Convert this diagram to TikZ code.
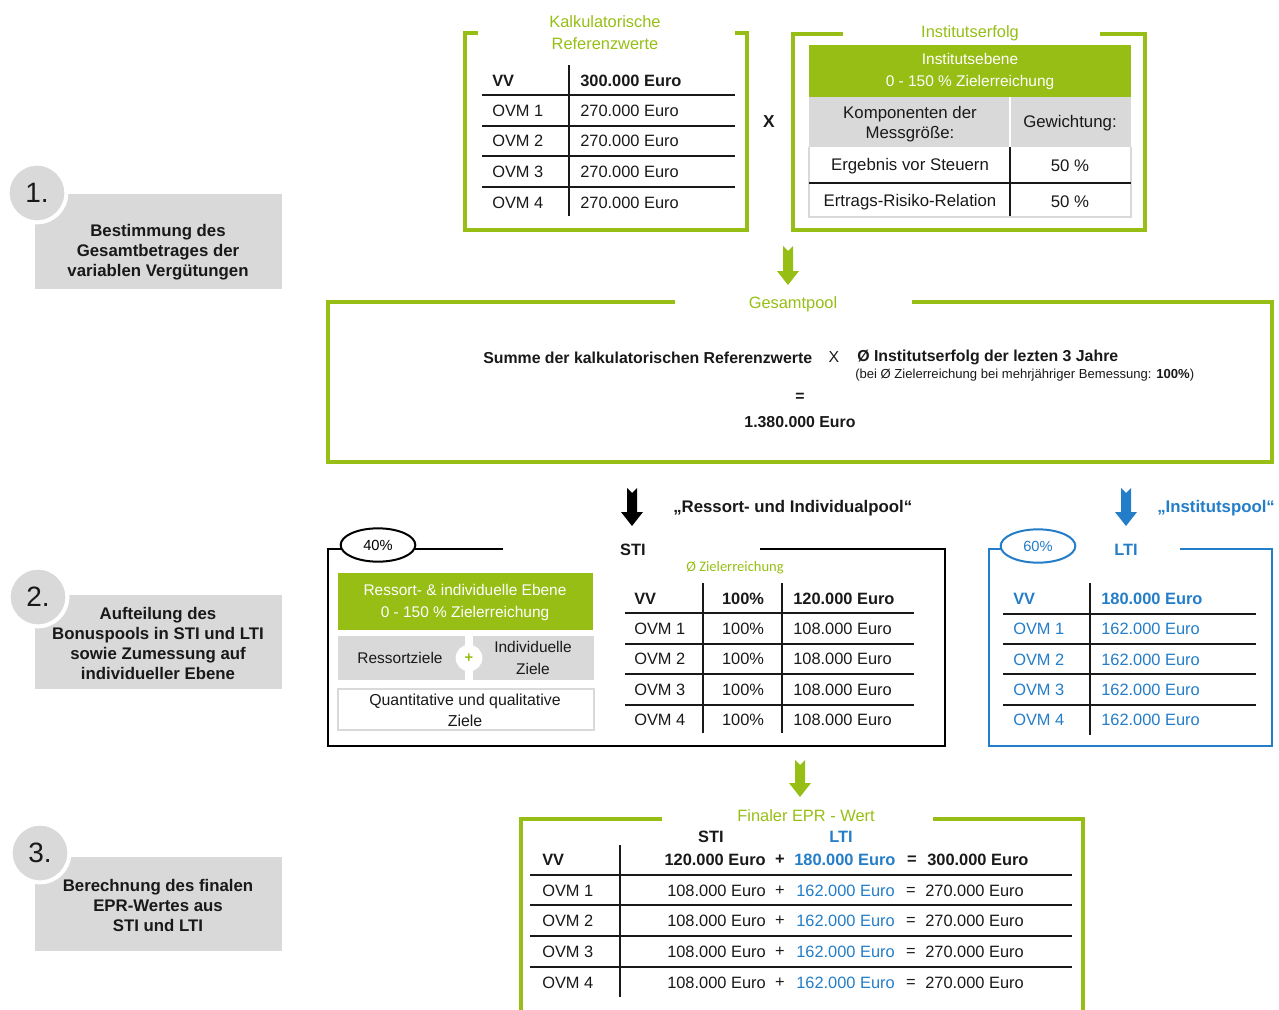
\documentclass[tikz,border=0pt]{standalone}
\usepackage{fontspec}
\setmainfont{Liberation Sans}
\newfontfamily\calibri{Carlito}
\usetikzlibrary{shapes.geometric}
\definecolor{grn}{RGB}{150,190,20}
\definecolor{gry}{RGB}{217,217,217}
\definecolor{blu}{RGB}{35,125,200}
\definecolor{dk}{RGB}{25,25,25}
\newcommand\fT{\fontsize{12.3}{15}\selectfont}
\newcommand\fStep{\fontsize{12.6}{15}\selectfont\bfseries}
\newcommand\fTitle{\fontsize{12.3}{16.5}\selectfont}
\newcommand\fBox{\fontsize{11.6}{16.5}\selectfont}
\newcommand\fRow{\fontsize{12.6}{15}\selectfont}
\newcommand\fPool{\fontsize{11.9}{14}\selectfont\bfseries}
\newcommand\barrow[4]{%
  \fill[#1] (#2-5,#3) -- (#2,#3+5) -- (#2+5,#3) -- (#2+5,#4-14) -- (#2+11,#4-14) -- (#2,#4) -- (#2-11,#4-14) -- (#2-5,#4-14) -- cycle;}
\tikzset{
  grnline/.style={draw=grn, line width=2.3pt},
  blkline/.style={draw=black, line width=1.9pt},
  bluline/.style={draw=blu, line width=1.9pt},
  tline/.style={draw=dk, line width=1.6pt},
  tt/.style={inner sep=0pt, font=\fT, text=dk},
  ttb/.style={tt, font=\fT\bfseries},
  title/.style={inner sep=0pt, font=\fTitle, text=grn, align=center},
  steptext/.style={inner sep=0pt, font=\fStep, text=dk, align=center},
  stepcirc/.style={circle, fill=gry, draw=white, line width=3pt, minimum size=44pt, inner sep=0pt, font=\fontsize{21}{21}\selectfont, text=dk},
  boxtext/.style={inner sep=0pt, font=\fBox, align=center},
  rowtext/.style={inner sep=0pt, font=\fRow, align=center, text=dk},
  pct/.style={ellipse, draw, line width=1.5pt, fill=white, minimum width=56pt, minimum height=25pt, inner sep=0pt, font=\fontsize{11}{12}\selectfont}
}
\begin{document}
\begin{tikzpicture}[x=0.75pt,y=-0.75pt]
\useasboundingbox (0,0) rectangle (1279,1010);
\clip (0,0) rectangle (1279,1010);

% ---------- step labels ----------
\fill[gry] (35,194) rectangle (282,289);
\node[stepcirc] (c1) at (37,193) {1.};
\node[steptext] (s1) at (158,252) {Bestimmung des\\Gesamtbetrages der\\variablen Vergütungen};
\fill[gry] (35,595) rectangle (282,689);
\node[stepcirc] (c2) at (38,597) {2.};
\node[steptext] (s2) at (158,643) {Aufteilung des\\Bonuspools in STI und LTI\\sowie Zumessung auf\\individueller Ebene};
\fill[gry] (35,857) rectangle (282,951);
\node[stepcirc] (c3) at (40,853) {3.};
\node[steptext] (s3) at (158,905) {Berechnung des finalen\\EPR-Wertes aus\\STI und LTI};

% ---------- Kalkulatorische Referenzwerte ----------
\draw[grnline] (478,33) -- (465,33) -- (465,230) -- (747,230) -- (747,33) -- (735,33);
\node[title] (kt) at (605,33) {Kalkulatorische\\Referenzwerte};
\draw[tline] (569,65) -- (569,216);
\foreach \yy in {95,126,156,187} \draw[tline] (482,\yy) -- (735,\yy);
\node[ttb, anchor=west] (ka0) at (492,81) {VV};
\node[ttb, anchor=west] (kb0) at (580,81) {300.000 Euro};
\foreach \yy/\a [count=\i] in {111/OVM 1, 141/OVM 2, 172/OVM 3, 203/OVM 4} {
  \node[tt, anchor=west] (ka\i) at (492,\yy) {\a};
  \node[tt, anchor=west] (kb\i) at (580,\yy) {270.000 Euro};
}
\node[ttb, font=\fontsize{13}{13}\selectfont\bfseries] (mul) at (769,122) {X};

% ---------- Institutserfolg ----------
\draw[grnline] (843,34) -- (793,34) -- (793,230) -- (1145,230) -- (1145,34) -- (1100,34);
\node[title] (it) at (970,33) {Institutserfolg};
\fill[grn] (809,45) rectangle (1131,97);
\node[boxtext, text=white] (ie) at (970,72) {Institutsebene\\0 - 150 \% Zielerreichung};
\fill[gry] (809,97) rectangle (1131,147);
\draw[white, line width=1.5pt] (1010,97) -- (1010,147);
\node[rowtext] (ik) at (910,124) {Komponenten der\\Messgröße:};
\node[rowtext] (ig) at (1070,123) {Gewichtung:};
\draw[gry, line width=1.5pt] (809,147) -- (809,217) -- (1131,217) -- (1131,147);
\draw[tline] (809,183) -- (1131,183);
\draw[tline] (1010,147) -- (1010,216);
\node[rowtext] (ir1) at (910,166) {Ergebnis vor Steuern};
\node[rowtext] (iw1) at (1070,166) {50 \%};
\node[rowtext] (ir2) at (910,202) {Ertrags-Risiko-Relation};
\node[rowtext] (iw2) at (1070,202) {50 \%};

\barrow{grn}{788}{246}{285}

% ---------- Gesamtpool ----------
\draw[grnline] (675,302) -- (328,302) -- (328,462) -- (1272,462) -- (1272,302) -- (912,302);
\node[title] (gt) at (793,304) {Gesamtpool};
\node[inner sep=0pt, font=\fPool, text=dk, anchor=west] (g1) at (483,358) {Summe der kalkulatorischen Referenzwerte};
\node[inner sep=0pt, font=\fontsize{11.9}{14}\selectfont, text=dk] (gx) at (834,357) {X};
\node[inner sep=0pt, font=\fPool, text=dk, anchor=west] (g2) at (857,357) {Ø Institutserfolg der lezten 3 Jahre};
\node[inner sep=0pt, font=\fontsize{9.8}{11}\selectfont, text=dk, anchor=west] (g3) at (855,375) {(bei Ø Zielerreichung bei mehrjähriger Bemessung: \textbf{100\%})};
\node[inner sep=0pt, font=\fPool, text=dk] (geq) at (800,397) {=};
\node[inner sep=0pt, font=\fPool, text=dk] (gsum) at (800,422) {1.380.000 Euro};

% ---------- arrows and pool titles ----------
\barrow{black}{632}{488}{526}
\node[inner sep=0pt, font=\fontsize{12.6}{14}\selectfont\bfseries, text=dk, anchor=west] (rp) at (673,508) {„Ressort- und Individualpool“};
\barrow{blu}{1126}{488}{526}
\node[inner sep=0pt, font=\fontsize{12.6}{14}\selectfont\bfseries, text=blu, anchor=west] (ip) at (1157,508) {„Institutspool“};

% ---------- STI box ----------
\draw[blkline] (342,549) -- (328,549) -- (328,746) -- (945,746) -- (945,549) -- (760,549);
\draw[blkline] (414,549) -- (503,549);
\node[pct] (p40) at (378,545) {40\%};
\node[ttb] (sti) at (633,550) {STI};
\fill[grn] (338,573) rectangle (593,630);
\node[boxtext, text=white] (rie) at (465,602) {Ressort- \& individuelle Ebene\\0 - 150 \% Zielerreichung};
\fill[gry] (338,636) rectangle (465,680);
\fill[gry] (473,636) rectangle (594,680);
\node[circle, fill=white, minimum size=20pt, inner sep=0pt, text=grn, font=\fontsize{11}{11}\selectfont\bfseries] (plus) at (469,658) {+};
\node[boxtext, text=dk] (rz) at (400,658) {Ressortziele};
\node[boxtext, text=dk] (iz) at (533,658) {Individuelle\\Ziele};
\draw[gry, line width=1.2pt] (338,689) rectangle (594,730);
\node[boxtext, text=dk, font=\fontsize{11.9}{15.7}\selectfont] (qz) at (465,710) {Quantitative und qualitative\\Ziele};

\node[inner sep=0pt, font=\calibri\fontsize{10.9}{11}\selectfont, text=grn] (oz) at (735,568) {Ø Zielerreichung};
\draw[tline] (703,583) -- (703,733);
\draw[tline] (782,583) -- (782,733);
\foreach \yy in {613,644,674,705} \draw[tline] (625,\yy) -- (914,\yy);
\node[ttb, anchor=west] (sa0) at (634,599) {VV};
\node[ttb] (sb0) at (743,599) {100\%};
\node[ttb, anchor=west] (sc0) at (793,599) {120.000 Euro};
\foreach \yy/\a [count=\i] in {629/OVM 1, 659/OVM 2, 690/OVM 3, 720/OVM 4} {
  \node[tt, anchor=west] (sa\i) at (634,\yy) {\a};
  \node[tt] (sb\i) at (743,\yy) {100\%};
  \node[tt, anchor=west] (sc\i) at (793,\yy) {108.000 Euro};
}

% ---------- LTI box ----------
\draw[bluline] (1002,549) -- (989,549) -- (989,746) -- (1272,746) -- (1272,549) -- (1180,549);
\node[pct, draw=blu, text=blu] (p60) at (1038,546) {60\%};
\node[ttb, text=blu] (lti) at (1126,550) {LTI};
\draw[tline] (1090,583) -- (1090,735);
\foreach \yy in {614,644,674,705} \draw[tline] (1003,\yy) -- (1256,\yy);
\node[ttb, text=blu, anchor=west] (la0) at (1013,599) {VV};
\node[ttb, text=blu, anchor=west] (lb0) at (1101,599) {180.000 Euro};
\foreach \yy/\a [count=\i] in {629/OVM 1, 660/OVM 2, 690/OVM 3, 720/OVM 4} {
  \node[tt, text=blu, anchor=west] (la\i) at (1013,\yy) {\a};
  \node[tt, text=blu, anchor=west] (lb\i) at (1101,\yy) {162.000 Euro};
}

\barrow{grn}{800}{760}{797}

% ---------- Finaler EPR - Wert ----------
\draw[grnline] (662,819) -- (521,819) -- (521,1020);
\draw[grnline] (933,819) -- (1083,819) -- (1083,1020);
\node[title] (ft) at (806,816) {Finaler EPR - Wert};
\node[ttb] (fsti) at (711,837) {STI};
\node[ttb, text=blu] (flti) at (841,837) {LTI};
\draw[tline] (620,845) -- (620,997);
\foreach \yy in {875,905,936,967} \draw[tline] (530,\yy) -- (1072,\yy);
\node[ttb, anchor=west] (fa0) at (542,860) {VV};
\node[ttb, anchor=east] (fs0) at (766,860) {120.000 Euro};
\node[ttb] (fp0) at (780,860) {+};
\node[ttb, text=blu, anchor=west] (fl0) at (794,860) {180.000 Euro};
\node[ttb] (fe0) at (912,860) {=};
\node[ttb, anchor=west] (fr0) at (927,860) {300.000 Euro};
\foreach \yy/\a [count=\i] in {891/OVM 1, 921/OVM 2, 952/OVM 3, 983/OVM 4} {
  \node[tt, anchor=west] (fa\i) at (542,\yy) {\a};
  \node[tt, anchor=east] (fs\i) at (766,\yy) {108.000 Euro};
  \node[tt] (fp\i) at (780,\yy) {+};
  \node[tt, text=blu, anchor=west] (fl\i) at (796,\yy) {162.000 Euro};
  \node[tt] (fe\i) at (911,\yy) {=};
  \node[tt, anchor=west] (fr\i) at (925,\yy) {270.000 Euro};
}
\end{tikzpicture}
\end{document}
